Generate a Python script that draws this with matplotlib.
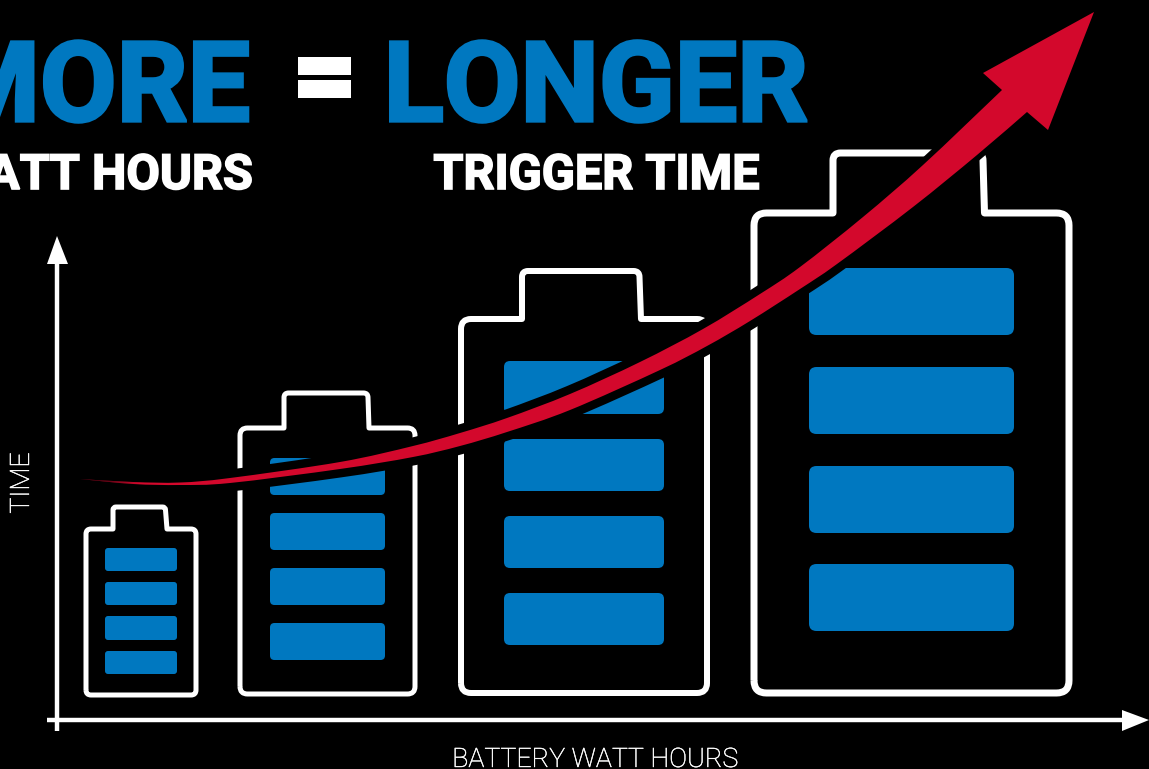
import numpy as np
import matplotlib
matplotlib.use("Agg")
import matplotlib.pyplot as plt
import matplotlib.patheffects as pe
from matplotlib.patches import FancyBboxPatch, PathPatch, Polygon, Rectangle
from matplotlib.path import Path

width_px = 1149
height_px = 769

blue = "#0078c0"
red = "#d3082c"

title_left = "MORE"
title_eq = "="
title_right = "LONGER"
sub_left = "WATT HOURS"
sub_right = "TRIGGER TIME"
x_label = "BATTERY WATT HOURS"
y_label = "TIME"

# battery outlines: left, right, top, bottom, cap left, cap right (top), cap right (bottom), cap top
batt_left = [86, 240, 461, 754]
batt_right = [196, 415, 707, 1069]
batt_top = [529, 428, 319, 213]
batt_bottom = [695, 694, 693, 693]
cap_left = [113, 284, 522, 833]
cap_right_top = [165.5, 368, 639.5, 983]
cap_right_bot = [167, 369, 641, 984.5]
cap_top = [507, 393, 271, 153]
batt_lw = [5, 5, 6, 7]

# cells
cell_left = [105, 270, 504, 809]
cell_right = [177, 385, 664, 1014]
cell_tops = [[548, 582, 616, 651], [458, 513, 568, 623], [361, 439, 516, 593], [268, 367, 466, 564]]
cell_bots = [[571, 605, 640, 674], [495, 550, 605, 660], [414, 491, 568, 645], [335, 434, 533, 631]]

# red arrow edges
upper_x = [80, 133, 180, 230, 340, 413, 460, 507, 570, 640, 703, 760, 800, 863, 923, 1002]
upper_y = [479, 482, 482.5, 478, 462, 446, 433, 418, 394, 362, 329, 294, 267, 217, 165, 90]
lower_x = [80, 133, 180, 230, 340, 413, 460, 507, 570, 660, 707, 750, 800, 837, 913, 977, 1027]
lower_y = [479, 484, 485, 483, 469, 457, 446, 432, 410, 370, 346, 321, 289, 264, 207, 155, 112]
head_x = [1002, 983, 1094, 1048, 1027]
head_y = [90, 73, 12, 130, 112]

# plot axes
yaxis_x, yaxis_top, yaxis_bot = 57, 255, 731
xaxis_y, xaxis_left, xaxis_right = 720, 47, 1130
yhead_x = [57, 47, 68]
yhead_y = [236, 264, 264]
xhead_x = [1149, 1122, 1122]
xhead_y = [720, 710, 731]


def outline(l, r, t, b, cl, crt, crb, ct, rad):
    # battery shape with rounded shoulders, clockwise from the bottom left
    s = rad * 0.6
    verts = [(l, b - rad), (l, t + rad), (l, t), (l + rad, t), (cl, t), (cl, ct + s), (cl, ct), (cl + s, ct),
             (crt - s, ct), (crt, ct), (crt, ct + s), (crb, t), (r - rad, t), (r, t), (r, t + rad),
             (r, b - rad), (r, b), (r - rad, b), (l + rad, b), (l, b), (l, b - rad)]
    codes = [Path.MOVETO, Path.LINETO, Path.CURVE3, Path.CURVE3, Path.LINETO, Path.LINETO, Path.CURVE3, Path.CURVE3,
             Path.LINETO, Path.CURVE3, Path.CURVE3, Path.LINETO, Path.LINETO, Path.CURVE3, Path.CURVE3,
             Path.LINETO, Path.CURVE3, Path.CURVE3, Path.LINETO, Path.CURVE3, Path.CURVE3]
    return Path(verts, codes)


def smooth(xs, ys):
    # catmull-rom through the read points, as cubic path segments
    pts = np.column_stack([xs, ys]).astype(float)
    verts = [tuple(pts[0])]
    codes = [Path.MOVETO]
    for i in range(len(pts) - 1):
        p0 = pts[max(i - 1, 0)]
        p1 = pts[i]
        p2 = pts[i + 1]
        p3 = pts[min(i + 2, len(pts) - 1)]
        verts += [tuple(p1 + (p2 - p0) / 6), tuple(p2 - (p3 - p1) / 6), tuple(p2)]
        codes += [Path.CURVE4] * 3
    return verts, codes


fig = plt.figure(figsize=(width_px / 100, height_px / 100), dpi=100, facecolor="black")
ax = fig.add_axes([0, 0, 1, 1])
ax.set_facecolor("black")
ax.axis("off")


def fat(color, w):
    return [pe.withStroke(linewidth=w, foreground=color, joinstyle="miter")]


# headline, thickened a bit since the original face is heavier
ax.text(250, 121, title_left, color=blue, fontsize=80, fontweight="bold", family="Roboto", ha="right", va="baseline",
        path_effects=fat(blue, 2.4))
ax.text(324, 112, title_eq, color="white", fontsize=80, fontweight="bold", family="Roboto", ha="center", va="baseline",
        path_effects=fat("white", 3.6))
ax.text(808, 121, title_right, color=blue, fontsize=80, fontweight="bold", family="Roboto", ha="right", va="baseline",
        path_effects=fat(blue, 2.4))
ax.text(253, 189, sub_left, color="white", fontsize=35, fontweight="bold", family="Roboto", ha="right", va="baseline",
        path_effects=fat("white", 1.2))
ax.text(596.5, 189, sub_right, color="white", fontsize=35, fontweight="bold", family="Roboto", ha="center", va="baseline",
        path_effects=fat("white", 1.2))

# axis labels
ax.text(595, 767, x_label, color="white", fontsize=19.3, fontweight="light", family="Roboto", ha="center", va="baseline",
        path_effects=fat("white", 0.3))
ax.text(35, 483, y_label, color="white", fontsize=19.3, fontweight="light", family="Roboto", rotation=90, ha="right", va="center",
        path_effects=fat("white", 0.3))

# axes
ax.plot([yaxis_x, yaxis_x], [yaxis_top, yaxis_bot], color="white", lw=3.2, solid_capstyle="butt")
ax.plot([xaxis_left, xaxis_right], [xaxis_y, xaxis_y], color="white", lw=3.2, solid_capstyle="butt")
ax.add_patch(Polygon(np.column_stack([yhead_x, yhead_y]), color="white", lw=0))
ax.add_patch(Polygon(np.column_stack([xhead_x, xhead_y]), color="white", lw=0))

# batteries
for i in range(4):
    rad = 5 + i * 2.5
    p = outline(batt_left[i], batt_right[i], batt_top[i], batt_bottom[i], cap_left[i],
                cap_right_top[i], cap_right_bot[i], cap_top[i], rad)
    ax.add_patch(PathPatch(p, fc="none", ec="white", lw=batt_lw[i] * 0.72, joinstyle="round", zorder=2))
    for t, b in zip(cell_tops[i], cell_bots[i]):
        r = 3 + i * 1.5
        ax.add_patch(FancyBboxPatch((cell_left[i] + r, t + r), cell_right[i] - cell_left[i] - 2 * r, b - t - 2 * r,
                                    boxstyle="round,pad=%f,rounding_size=%f" % (r, r),
                                    fc=blue, ec="none", zorder=2))

# red arrow with its black halo, the halo narrows towards the head
uv, uc = smooth(upper_x, upper_y)
lv, lc = smooth(lower_x[::-1], lower_y[::-1])
verts = uv + list(zip(head_x[1:], head_y[1:])) + lv[1:] + [uv[0]]
codes = uc + [Path.LINETO] * (len(head_x) - 1) + lc[1:] + [Path.LINETO]
arrow = Path(verts, codes)
ax.add_patch(PathPatch(arrow, fc="black", ec="black", lw=8, joinstyle="round", zorder=3))
wide = PathPatch(arrow, fc="black", ec="black", lw=12.2, joinstyle="round", zorder=3)
ax.add_patch(wide)
wide.set_clip_path(Rectangle((0, 205), width_px, height_px, transform=ax.transData))
red_patch = PathPatch(arrow, fc=red, ec="none", zorder=4)
ax.add_patch(red_patch)

# the tail fades out into the background
fade = np.zeros((1, 60, 4))
fade[0, :, 3] = np.linspace(1, 0, 60)
im = ax.imshow(fade, extent=[80, 140, 490, 474], aspect="auto", zorder=5)
im.set_clip_path(red_patch)

ax.set_xlim(0, width_px)
ax.set_ylim(height_px, 0)

fig.savefig("out.png", dpi=100, facecolor="black")
